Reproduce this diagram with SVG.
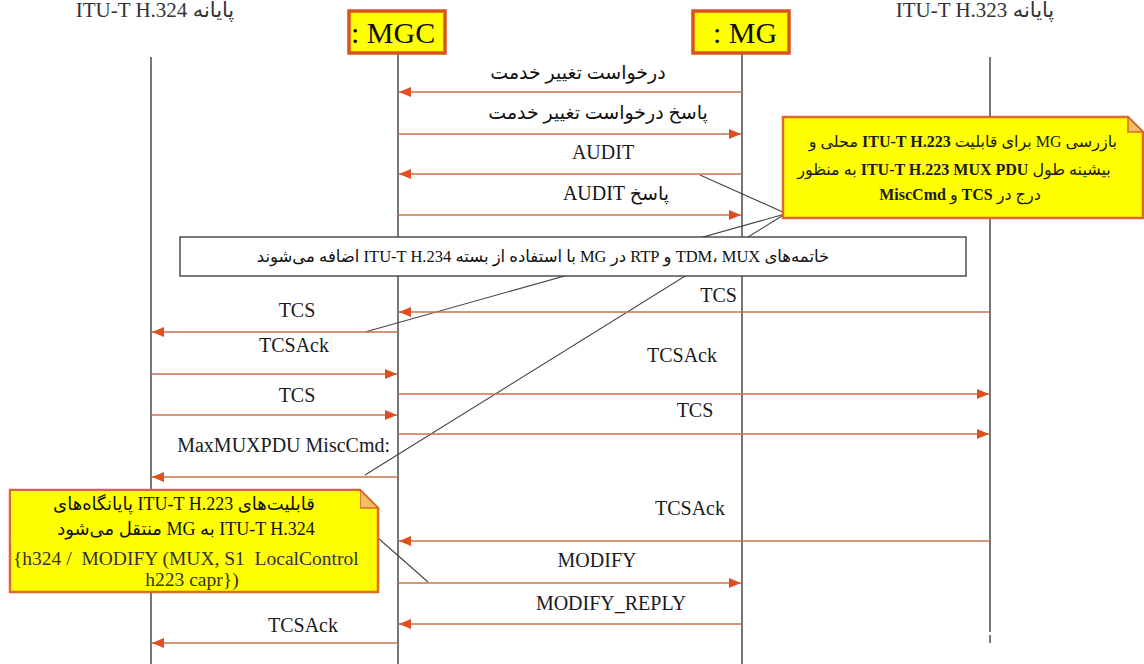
<svg xmlns="http://www.w3.org/2000/svg" width="1144" height="664" viewBox="0 0 1144 664">
<defs>
<style>
.life{stroke:#4a4a4a;stroke-width:1.5;fill:none}
.msg{stroke:#c9704c;stroke-width:1.6;fill:none;marker-end:url(#ah)}
.lat{font-family:"Liberation Serif","DejaVu Sans",serif;font-size:20px;fill:#1a1a1a}
.fa{font-family:"Liberation Serif","DejaVu Sans",serif;font-size:19px;fill:#111;direction:rtl;unicode-bidi:embed}
.hdr{font-family:"Liberation Serif","DejaVu Sans",serif;font-size:21px;fill:#333;direction:rtl;unicode-bidi:embed}
.obj{fill:#ffff00;stroke:#d9541e;stroke-width:3.5}
.objt{font-family:"Liberation Serif",serif;font-size:30px;fill:#111}
.note{fill:#ffff00;stroke:#dc6a2c;stroke-width:2.5}
.fold{fill:#f0c060;stroke:#dc6a2c;stroke-width:1.5}
.link{stroke:#444;stroke-width:1.1;fill:none}
.nt{font-family:"Liberation Serif","DejaVu Sans",serif;font-size:16px;fill:#1a1a1a;direction:rtl;unicode-bidi:embed}
.b{font-weight:bold}
</style>
<marker id="ah" viewBox="0 0 12 10" refX="12" refY="5" markerWidth="12" markerHeight="10" markerUnits="userSpaceOnUse" orient="auto">
<path d="M0,0 L12,5 L0,10 z" fill="#e0501e"/>
</marker>
</defs>
<rect width="1144" height="664" fill="#ffffff"/>

<g id="headers">
<text class="hdr" x="155" y="17" text-anchor="middle">پایانه ITU-T H.324</text>
<text class="hdr" x="975" y="17" text-anchor="middle">پایانه ITU-T H.323</text>
</g>

<g id="lifelines">
<line class="life" x1="151" y1="57" x2="151" y2="664"/>
<line class="life" x1="398" y1="53" x2="398" y2="664"/>
<line class="life" x1="742" y1="53" x2="742" y2="664"/>
<line class="life" x1="990" y1="57" x2="990" y2="632" style="stroke:#777;stroke-width:2"/>
<line class="life" x1="990" y1="635" x2="990" y2="643" style="stroke:#777;stroke-width:2"/>
</g>

<g id="MGC">
<rect class="obj" x="349" y="11" width="96" height="42"/>
<text class="objt" x="351" y="43">: MGC</text>
</g>
<g id="MG">
<rect class="obj" x="693" y="11" width="96" height="42"/>
<text class="objt" x="713" y="43">: MG</text>
</g>

<g id="note-links">
<line class="link" x1="700" y1="175" x2="785" y2="213"/>
<line class="link" x1="365" y1="332" x2="785" y2="214"/>
<line class="link" x1="365" y1="475" x2="785" y2="214"/>
<line class="link" x1="378" y1="538" x2="428" y2="582"/>
</g>

<g id="banner">
<rect x="180" y="237" width="786" height="39" fill="#ffffff" stroke="#333" stroke-width="1.3"/>
<text class="fa" x="543" y="262" text-anchor="middle" style="font-size:16.5px">خاتمه‌های TDM، MUX و RTP در MG با استفاده از بسته ITU-T H.234 اضافه می‌شوند</text>
</g>

<g id="connectors">
<line class="msg" x1="742" y1="92" x2="399" y2="92"/>
<line class="msg" x1="398" y1="134" x2="741" y2="134"/>
<line class="msg" x1="742" y1="174" x2="399" y2="174"/>
<line class="msg" x1="398" y1="215" x2="741" y2="215"/>
<line class="msg" x1="990" y1="312" x2="399" y2="312"/>
<line class="msg" x1="398" y1="332" x2="152" y2="332"/>
<line class="msg" x1="151" y1="374" x2="397" y2="374"/>
<line class="msg" x1="398" y1="394" x2="989" y2="394"/>
<line class="msg" x1="151" y1="415" x2="397" y2="415"/>
<line class="msg" x1="398" y1="434" x2="989" y2="434"/>
<line class="msg" x1="398" y1="477" x2="152" y2="477"/>
<line class="msg" x1="990" y1="541" x2="399" y2="541"/>
<line class="msg" x1="398" y1="583" x2="741" y2="583"/>
<line class="msg" x1="742" y1="624" x2="399" y2="624"/>
<line class="msg" x1="398" y1="643" x2="152" y2="643"/>
</g>

<g id="labels">
<text class="fa" x="578" y="79" text-anchor="middle">درخواست تغییر خدمت</text>
<text class="fa" x="598" y="119" text-anchor="middle">پاسخ درخواست تغییر خدمت</text>
<text class="lat" x="603" y="159" text-anchor="middle">AUDIT</text>
<text class="fa" x="616" y="200" text-anchor="middle">پاسخ <tspan style="font-size:20px">AUDIT</tspan></text>
<text class="lat" x="737" y="302" text-anchor="end">TCS</text>
<text class="lat" x="297" y="317" text-anchor="middle">TCS</text>
<text class="lat" x="294" y="352" text-anchor="middle">TCSAck</text>
<text class="lat" x="682" y="362" text-anchor="middle">TCSAck</text>
<text class="lat" x="297" y="402" text-anchor="middle">TCS</text>
<text class="lat" x="695" y="417" text-anchor="middle">TCS</text>
<text class="lat" x="390" y="452" text-anchor="end">MaxMUXPDU MiscCmd:</text>
<text class="lat" x="690" y="515" text-anchor="middle">TCSAck</text>
<text class="lat" x="597" y="567" text-anchor="middle">MODIFY</text>
<text class="lat" x="611" y="610" text-anchor="middle">MODIFY_REPLY</text>
<text class="lat" x="303" y="632" text-anchor="middle">TCSAck</text>
</g>

<g id="note-top">
<path class="note" d="M783,117 H1128 L1143,132 V218 H783 Z"/>
<path class="fold" d="M1128,117 V132 H1143 Z"/>
<text class="nt" x="1117" y="147" text-anchor="start">بازرسی MG برای قابلیت <tspan class="b">ITU-T H.223</tspan> محلی و</text>
<text class="nt" x="954" y="175" text-anchor="middle">بیشینه طول <tspan class="b">ITU-T H.223 MUX PDU</tspan> به منظور</text>
<text class="nt" x="960" y="200" text-anchor="middle">درج در <tspan class="b">TCS</tspan> و <tspan class="b">MiscCmd</tspan></text>
</g>

<g id="note-bottom">
<path class="note" d="M10,490 H360 L378,508 V592 H10 Z"/>
<path class="fold" d="M360,490 V508 H378 Z"/>
<rect x="11" y="491" width="349" height="52" fill="#ffff00"/>
<text class="fa" x="184" y="510" text-anchor="middle" style="font-size:18px">قابلیت‌های ITU-T H.223 پایانگاه‌های</text>
<text class="fa" x="186" y="535" text-anchor="middle" style="font-size:18px">ITU-T H.324 به MG منتقل می‌شود</text>
<text class="lat" x="13" y="565" style="font-size:19.5px;fill:#333;white-space:pre">{h324 /  MODIFY (MUX, S1  LocalControl</text>
<text class="lat" x="192" y="586" text-anchor="middle" style="font-size:19.5px;fill:#333">h223 capr})</text>
</g>
</svg>
